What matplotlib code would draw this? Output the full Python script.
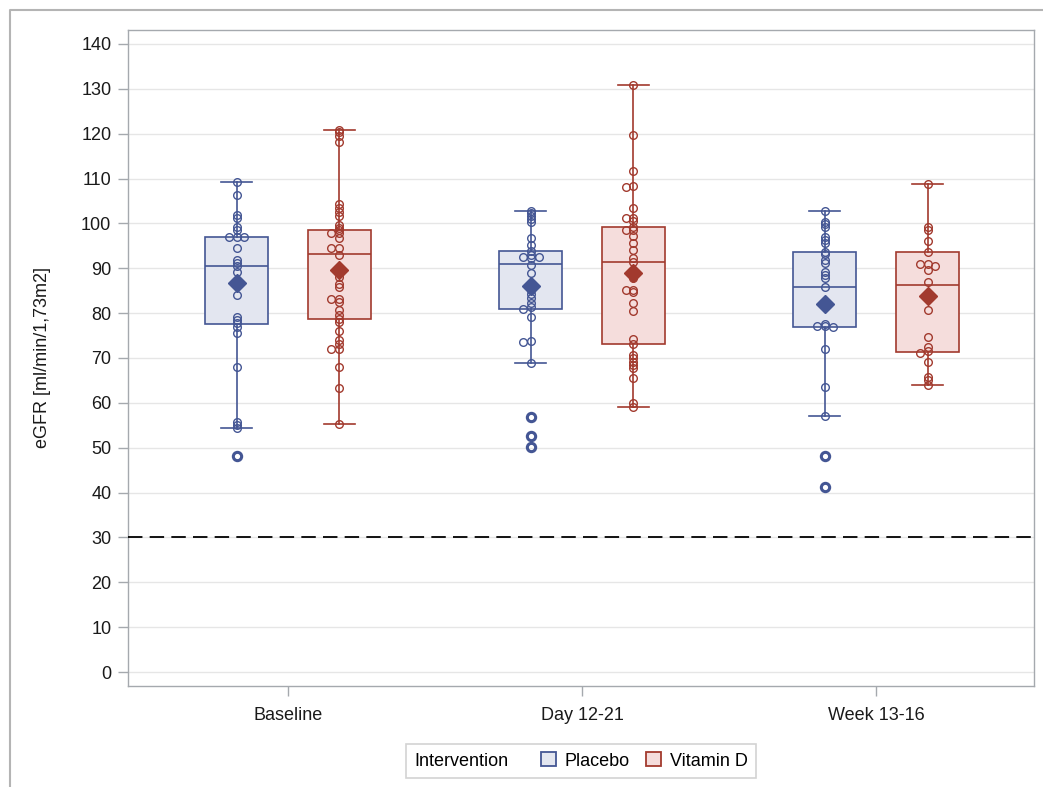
import matplotlib
matplotlib.use("Agg")
import matplotlib.pyplot as plt
from matplotlib.patches import Patch
from matplotlib.lines import Line2D
from matplotlib.offsetbox import HPacker

plt.rcParams['font.family'] = ['Liberation Sans', 'DejaVu Sans']

visits = ["Baseline", "Day 12-21", "Week 13-16"]
groups = ["Placebo", "Vitamin D"]

# individual eGFR values, one list per visit
placebo_pts = [
    [109.2, 106.3, 101.9, 101.2, 99.3, 98.5, 97.0, 97.0, 97.0, 94.6, 91.8, 91.2,
     90.6, 89.2, 84.0, 79.2, 78.5, 77.7, 77.0, 75.6, 68.1, 55.8, 55.1, 54.3, 48.2],
    [102.8, 102.3, 101.7, 101.0, 100.4, 96.7, 95.2, 93.8, 93.0, 92.6, 92.6, 92.2,
     90.7, 88.9, 85.2, 84.3, 83.3, 82.3, 81.4, 81.0, 79.1, 73.9, 73.6, 68.8, 56.9, 52.6, 50.2],
    [102.8, 100.4, 99.8, 99.2, 97.0, 96.3, 95.6, 93.7, 93.2, 91.8, 91.1, 89.2, 88.5,
     87.8, 85.8, 77.6, 77.1, 77.1, 76.8, 72.0, 63.6, 57.1, 48.2, 41.2],
]
vitd_pts = [
    [120.8, 120.3, 119.5, 118.2, 104.4, 103.5, 102.6, 101.7, 99.6, 99.0, 98.5, 97.9,
     97.9, 96.7, 94.6, 94.6, 93.0, 88.1, 86.6, 85.8, 83.1, 83.1, 82.5, 80.7, 79.6,
     78.6, 78.1, 76.0, 74.0, 73.1, 71.9, 71.9, 68.1, 63.4, 55.3],
    [130.9, 119.7, 111.7, 108.3, 108.0, 103.4, 101.1, 101.1, 100.6, 99.3, 98.5, 98.5,
     97.3, 95.7, 94.1, 92.2, 91.5, 89.2, 87.8, 85.2, 85.2, 84.6, 82.2, 80.5, 74.2,
     73.1, 70.7, 69.9, 69.2, 68.4, 67.7, 65.5, 59.9, 59.1],
    [108.7, 99.1, 98.5, 96.1, 93.6, 91.0, 91.0, 90.6, 89.6, 87.0, 80.8, 74.7, 72.5,
     71.6, 71.2, 69.2, 65.8, 65.1, 64.0],
]

# box statistics as drawn
placebo_q1 = [77.6, 81.0, 76.8]
placebo_med = [90.6, 90.9, 85.8]
placebo_q3 = [97.0, 93.8, 93.6]
placebo_mean = [86.8, 86.0, 82.0]
vitd_q1 = [78.6, 73.1, 71.3]
vitd_med = [93.1, 91.3, 86.2]
vitd_q3 = [98.5, 99.3, 93.6]
vitd_mean = [89.6, 89.0, 83.8]

threshold = 30

blue, blue_fill = "#445694", "#E3E6F0"
red, red_fill = "#A23A2E", "#F5DDDC"
FS = 13


def box_stats(pts, q1, med, q3, mean):
    iqr = q3 - q1
    lo, hi = q1 - 1.5 * iqr, q3 + 1.5 * iqr
    inside = [p for p in pts if lo <= p <= hi]
    out = [p for p in pts if p < lo or p > hi]
    return dict(q1=q1, med=med, q3=q3, mean=mean,
                whislo=min(inside), whishi=max(inside), fliers=out)


def dodge(pts, x0, step=0.027):
    # put coinciding values side by side
    xs = []
    centres = []
    side = {}
    for p in pts:
        hit = None
        for c in centres:
            if abs(p - c) < 0.45:
                hit = c
                break
        if hit is None:
            centres.append(p)
            xs.append(x0)
        else:
            n = side.get(hit, 0)
            xs.append(x0 + (-step if n % 2 == 0 else step) * (n // 2 + 1))
            side[hit] = n + 1
    return xs


fig = plt.figure(figsize=(10.43, 7.87), dpi=100)
ax = fig.add_axes([128 / 1043, 101 / 787, 906 / 1043, 656 / 787])

offset = 0.175
series = [
    (placebo_pts, placebo_q1, placebo_med, placebo_q3, placebo_mean, blue, blue_fill, -offset),
    (vitd_pts, vitd_q1, vitd_med, vitd_q3, vitd_mean, red, red_fill, offset),
]

for pts, q1, med, q3, mean, col, fill, dx in series:
    stats = [box_stats(pts[i], q1[i], med[i], q3[i], mean[i]) for i in range(len(visits))]
    pos = [i + dx for i in range(len(visits))]
    bp = ax.bxp(stats, positions=pos, widths=0.213, capwidths=0.105,
                patch_artist=True, showmeans=True, showfliers=True,
                boxprops=dict(facecolor=fill, edgecolor=col, linewidth=1.2),
                medianprops=dict(color=col, linewidth=1.2),
                whiskerprops=dict(color=col, linewidth=1.2),
                capprops=dict(color=col, linewidth=1.2),
                meanprops=dict(marker='D', markerfacecolor=col, markeredgecolor=col,
                               markersize=9.5),
                flierprops=dict(marker='o', markerfacecolor='none', markeredgecolor=col,
                                markersize=6, markeredgewidth=2.2),
                zorder=2)
    for m in bp['means']:
        m.set_zorder(5)
    for i in range(len(visits)):
        xs = dodge(pts[i], i + dx)
        ax.plot(xs, pts[i], linestyle='none', marker='o', markersize=5.5,
                markerfacecolor='none', markeredgecolor=col, markeredgewidth=1.0,
                zorder=3)

ax.axhline(threshold, color='black', linewidth=1.3, dashes=(8, 4), zorder=4)

ax.set_xlim(-0.544, 2.537)
ax.set_ylim(-3.1, 143.1)
ax.set_yticks(range(0, 141, 10))
ax.set_xticks(range(len(visits)))
ax.set_xticklabels(visits)
ax.yaxis.grid(True, color='#E6E6E6', linewidth=1.0)
ax.set_axisbelow(True)

for s in ax.spines.values():
    s.set_color('#A5A9AE')
    s.set_linewidth(1.0)
ax.tick_params(axis='both', colors='#A5A9AE', labelcolor='#1a1a1a', labelsize=FS,
               length=7, width=1.0)
ax.tick_params(axis='y', pad=5)
ax.tick_params(axis='x', pad=8)
ax.set_ylabel("eGFR [ml/min/1,73m2]", fontsize=FS, color='#1a1a1a', labelpad=22)

handles = [Patch(facecolor=blue_fill, edgecolor=blue, linewidth=1.3),
           Patch(facecolor=red_fill, edgecolor=red, linewidth=1.3)]
leg = fig.legend(handles, groups, loc='center', bbox_to_anchor=(581 / 1043, 1 - 761 / 787),
                 ncol=2, fontsize=FS, title="Intervention", title_fontsize=FS,
                 frameon=True, fancybox=False, edgecolor='#C8C8C8',
                 handlelength=0.8, handleheight=0.8, handletextpad=0.5,
                 columnspacing=0.9, borderpad=0.45, borderaxespad=0)
leg.get_frame().set_linewidth(1.2)
# title to the left of the entries instead of on top
try:
    old = leg._legend_box
    newbox = HPacker(pad=old.pad, sep=1.8 * FS, align="center",
                     children=old.get_children())
    newbox.set_figure(fig)
    newbox.set_offset(leg._findoffset)
    leg._legend_box = newbox
except Exception:
    pass

# outer frame, left and top only
fig.add_artist(Line2D([9.5 / 1043, 9.5 / 1043, 1.0], [0.0, 1 - 10 / 787, 1 - 10 / 787],
                      color='#B4B4B4', linewidth=1.5, transform=fig.transFigure))

fig.savefig("out.png", dpi=100)
